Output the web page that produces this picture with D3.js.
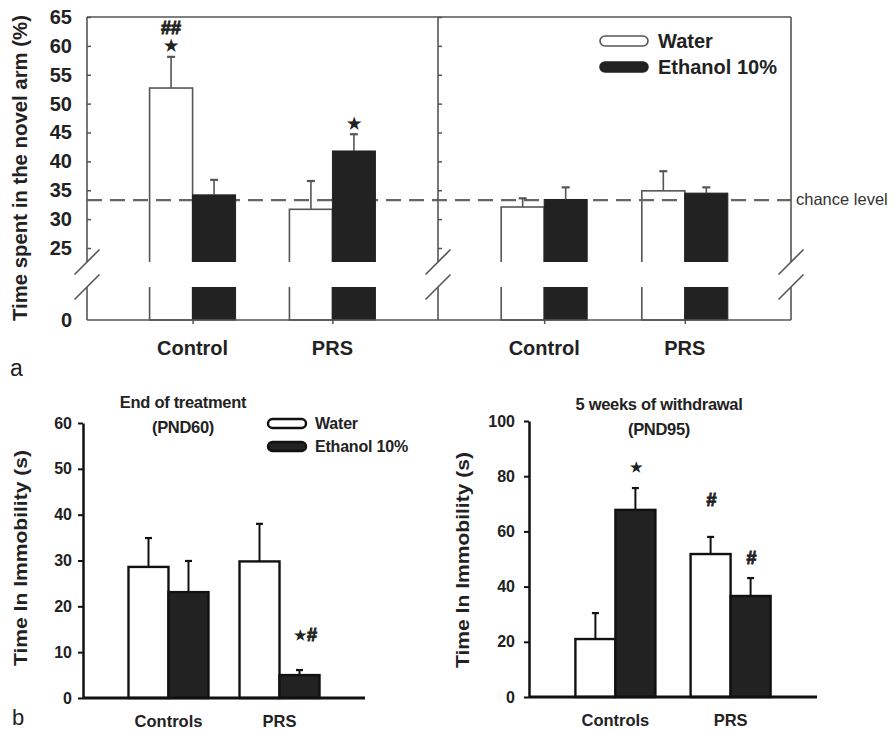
<!DOCTYPE html>
<html>
<head>
<meta charset="utf-8">
<script src="https://cdn.jsdelivr.net/npm/d3@7"></script>
<style>
  body { margin: 0; background: #fff; }
  svg text { font-family: "Liberation Sans", Arial, Helvetica, sans-serif; }
</style>
</head>
<body>
<svg id="chart" width="893" height="731"></svg>
<script>
// ---------------- data ----------------
const seriesNames = ["Water", "Ethanol 10%"];

// (a) time spent in the novel arm, two test sessions side by side
const novelArmGroups = ["Control", "PRS"];
const novelArmTicks = [25, 30, 35, 40, 45, 50, 55, 60, 65];
const chanceLevel = 33.3;
const novelLeftWater = [52.7, 31.7];
const novelLeftWaterSE = [5.4, 4.9];
const novelLeftEthanol = [34.2, 41.8];
const novelLeftEthanolSE = [2.6, 2.9];
const novelRightWater = [32.1, 34.9];
const novelRightWaterSE = [1.5, 3.4];
const novelRightEthanol = [33.4, 34.5];
const novelRightEthanolSE = [2.1, 1.0];
const novelLeftMarks = [
  { group: "Control", series: "Water", text: "★" },
  { group: "Control", series: "Water", text: "##" },
  { group: "PRS", series: "Ethanol 10%", text: "★" }
];

// (b) forced swim immobility
const fstGroups = ["Controls", "PRS"];
const fst60Ticks = [0, 10, 20, 30, 40, 50, 60];
const fst60Water = [28.6, 29.8];
const fst60WaterSE = [6.3, 8.2];
const fst60Ethanol = [23.1, 5.0];
const fst60EthanolSE = [6.8, 1.1];
const fst60Marks = [{ group: "PRS", series: "Ethanol 10%", text: "★#" }];

const fst95Ticks = [0, 20, 40, 60, 80, 100];
const fst95Water = [21.0, 51.8];
const fst95WaterSE = [9.4, 6.2];
const fst95Ethanol = [67.8, 36.6];
const fst95EthanolSE = [7.9, 6.5];
const fst95Marks = [
  { group: "Controls", series: "Ethanol 10%", text: "★" },
  { group: "PRS", series: "Water", text: "#" },
  { group: "PRS", series: "Ethanol 10%", text: "#" }
];

// ---------------- drawing ----------------
const svg = d3.select("#chart");
const GRAY = "#555", INK = "#222";
const FAMILY = '"Liberation Sans", Arial, sans-serif';

// ===== panel a : broken y axis =====
const A = { left: 87, mid: 438, right: 791, top: 17, bottom: 320, cutHi: 262, cutLo: 287 };
const yUp = d3.scaleLinear().domain([25, 65]).range([248, 17]);
const yLow = d3.scaleLinear().domain([0, 5]).range([A.bottom, A.cutLo]);

const defs = svg.append("defs");
defs.append("clipPath").attr("id", "clipUp")
  .append("rect").attr("x", 0).attr("y", 0).attr("width", 893).attr("height", A.cutHi);
defs.append("clipPath").attr("id", "clipLow")
  .append("rect").attr("x", 0).attr("y", A.cutLo).attr("width", 893).attr("height", A.bottom - A.cutLo + 1);

const gA = svg.append("g");
const layerWhite = gA.append("g");
const layerDash = gA.append("g");
const layerBlack = gA.append("g");
const layerFrame = gA.append("g");
const layerErr = gA.append("g");
const layerText = gA.append("g");

function novelHalf(x0, x1, water, waterSE, eth, ethSE, marks) {
  const xg = d3.scalePoint().domain(novelArmGroups).range([x0, x1]).padding(0.755);
  const xs = d3.scaleBand().domain(seriesNames).range([-43, 43]);
  const rows = novelArmGroups.flatMap((g, i) => [
    { g, s: seriesNames[0], v: water[i], se: waterSE[i] },
    { g, s: seriesNames[1], v: eth[i], se: ethSE[i] }
  ]);
  const isWater = d => d.s === seriesNames[0];

  [["clipUp", d => yUp(d.v), () => yUp(20)], ["clipLow", d => yLow(d.v), () => yLow(0)]]
    .forEach(([clip, yTopFn, yBotFn]) => {
      [[layerWhite, rows.filter(isWater)], [layerBlack, rows.filter(d => !isWater(d))]]
        .forEach(([layer, data]) => {
          layer.append("g").attr("clip-path", `url(#${clip})`)
            .selectAll("rect").data(data).join("rect")
            .attr("x", d => xg(d.g) + xs(d.s))
            .attr("width", xs.bandwidth())
            .attr("y", yTopFn)
            .attr("height", d => yBotFn(d) - yTopFn(d))
            .attr("fill", d => isWater(d) ? "#fff" : INK)
            .attr("stroke", d => isWater(d) ? GRAY : INK)
            .attr("stroke-width", d => isWater(d) ? 1.6 : 1);
        });
    });

  // error bars (upper half only)
  const eb = layerErr.selectAll(null).data(rows).join("g")
    .attr("transform", d => `translate(${xg(d.g) + xs(d.s) + xs.bandwidth() / 2},0)`);
  eb.append("line").attr("x1", 0).attr("x2", 0)
    .attr("y1", d => yUp(d.v)).attr("y2", d => yUp(d.v + d.se))
    .attr("stroke", GRAY).attr("stroke-width", 1.6);
  eb.append("line").attr("x1", -4).attr("x2", 4)
    .attr("y1", d => yUp(d.v + d.se)).attr("y2", d => yUp(d.v + d.se))
    .attr("stroke", GRAY).attr("stroke-width", 2.2);

  // group ticks on the baseline
  layerFrame.append("g").attr("transform", `translate(0,${A.bottom})`)
    .call(d3.axisBottom(xg).tickSize(4).tickFormat(""))
    .call(g => g.select(".domain").remove())
    .call(g => g.selectAll("line").attr("stroke", GRAY).attr("stroke-width", 1.5));

  // category labels
  layerText.selectAll(null).data(novelArmGroups).join("text")
    .attr("x", d => xg(d)).attr("y", 355)
    .attr("text-anchor", "middle").attr("font-size", 20).attr("font-weight", "bold")
    .attr("fill", INK).text(d => d);

  // significance marks
  marks.forEach(m => {
    const r = rows.find(d => d.g === m.group && d.s === m.series);
    const top = yUp(r.v + r.se);
    const hash = m.text === "##";
    layerText.append("text")
      .attr("x", xg(r.g) + xs(r.s) + xs.bandwidth() / 2)
      .attr("y", top - (hash ? 29 : 11))
      .attr("text-anchor", "middle").attr("dominant-baseline", "central")
      .attr("font-size", hash ? 18 : 16).attr("font-weight", "bold")
      .attr("fill", INK).attr("stroke", INK).attr("stroke-width", hash ? 0.9 : 0)
      .text(m.text);
  });
}

novelHalf(A.left, A.mid, novelLeftWater, novelLeftWaterSE, novelLeftEthanol, novelLeftEthanolSE, novelLeftMarks);
novelHalf(A.mid, A.right, novelRightWater, novelRightWaterSE, novelRightEthanol, novelRightEthanolSE, []);

// chance level line
layerDash.append("line")
  .attr("x1", A.left).attr("x2", A.right)
  .attr("y1", yUp(chanceLevel)).attr("y2", yUp(chanceLevel))
  .attr("stroke", "#666").attr("stroke-width", 2.2).attr("stroke-dasharray", "15,8");
layerText.append("text").attr("x", 796).attr("y", yUp(chanceLevel) + 5)
  .attr("font-size", 16.5).attr("fill", "#333").text("chance level");

// frame: top/bottom lines, three broken verticals with break slashes
const frame = layerFrame.append("g").attr("stroke", GRAY).attr("stroke-width", 1.6).attr("fill", "none");
frame.append("line").attr("x1", A.left).attr("x2", A.right).attr("y1", A.top).attr("y2", A.top);
frame.append("line").attr("x1", A.left).attr("x2", A.right).attr("y1", A.bottom).attr("y2", A.bottom);
[A.left, A.mid, A.right].forEach(x => {
  frame.append("line").attr("x1", x).attr("x2", x).attr("y1", A.top).attr("y2", A.cutHi);
  frame.append("line").attr("x1", x).attr("x2", x).attr("y1", A.cutLo).attr("y2", A.bottom);
  [A.cutHi, A.cutLo].forEach(y => {
    frame.append("line").attr("x1", x - 12.5).attr("y1", y + 12.5)
      .attr("x2", x + 12.5).attr("y2", y - 12.5);
  });
});

// y axis ticks (inward) with labels, and inward ticks on the divider
layerFrame.append("g").attr("transform", `translate(${A.left},0)`)
  .call(d3.axisLeft(yUp).tickValues(novelArmTicks).tickSize(-4).tickPadding(15))
  .call(g => g.select(".domain").remove())
  .call(g => g.selectAll("line").attr("stroke", GRAY).attr("stroke-width", 1.5))
  .call(g => g.selectAll("text").attr("font-size", 20).attr("font-weight", "bold").attr("fill", INK)
    .style("font-family", FAMILY));
layerFrame.append("g").attr("transform", `translate(${A.left},0)`)
  .call(d3.axisLeft(yLow).tickValues([0]).tickFormat(d3.format("d")).tickSize(0).tickPadding(15))
  .call(g => g.select(".domain").remove())
  .call(g => g.selectAll("text").attr("font-size", 20).attr("font-weight", "bold").attr("fill", INK)
    .style("font-family", FAMILY));
layerFrame.append("g").attr("transform", `translate(${A.mid},0)`)
  .call(d3.axisRight(yUp).tickValues(novelArmTicks).tickSize(4).tickFormat(""))
  .call(g => g.select(".domain").remove())
  .call(g => g.selectAll("line").attr("stroke", GRAY).attr("stroke-width", 1.5));

// y title
layerText.append("text")
  .attr("transform", "translate(27,168) rotate(-90)")
  .attr("text-anchor", "middle").attr("font-size", 20).attr("font-weight", "bold")
  .attr("textLength", 306).attr("lengthAdjust", "spacingAndGlyphs")
  .attr("fill", INK).text("Time spent in the novel arm (%)");

// legend
const legA = layerText.append("g");
seriesNames.forEach((s, i) => {
  legA.append("rect").attr("x", 600).attr("y", 36 + i * 26).attr("width", 48).attr("height", 10)
    .attr("rx", 5).attr("fill", i ? INK : "#fff").attr("stroke", i ? INK : GRAY).attr("stroke-width", 1.6);
  legA.append("text").attr("x", 658).attr("y", 48 + i * 25.5)
    .attr("font-size", 20).attr("font-weight", "bold").attr("fill", INK).text(s);
});

// panel letter
svg.append("text").attr("x", 10).attr("y", 376).attr("font-size", 23).attr("fill", INK).text("a");

// ===== panel b : forced swim immobility =====
function fstPanel(cfg) {
  const g = svg.append("g");
  const y = d3.scaleLinear().domain([0, cfg.ticks[cfg.ticks.length - 1]]).range([cfg.y0, cfg.y1]);
  const xg = d3.scalePoint().domain(fstGroups).range([cfg.x0, cfg.x1]).padding(cfg.pad);
  const xs = d3.scaleBand().domain(seriesNames).range([-40, 40]);
  const rows = fstGroups.flatMap((grp, i) => [
    { g: grp, s: seriesNames[0], v: cfg.water[i], se: cfg.waterSE[i] },
    { g: grp, s: seriesNames[1], v: cfg.eth[i], se: cfg.ethSE[i] }
  ]);
  const isWater = d => d.s === seriesNames[0];
  const cx = d => xg(d.g) + xs(d.s) + xs.bandwidth() / 2;

  // error bars first, bars over them
  const eb = g.selectAll(null).data(rows).join("g");
  eb.append("line").attr("x1", cx).attr("x2", cx)
    .attr("y1", d => y(d.v)).attr("y2", d => y(d.v + d.se))
    .attr("stroke", "#111").attr("stroke-width", 2);
  eb.append("line").attr("x1", d => cx(d) - 3.5).attr("x2", d => cx(d) + 3.5)
    .attr("y1", d => y(d.v + d.se)).attr("y2", d => y(d.v + d.se))
    .attr("stroke", "#111").attr("stroke-width", 2.2);

  g.selectAll(null).data(rows).join("rect")
    .attr("x", d => xg(d.g) + xs(d.s))
    .attr("width", xs.bandwidth())
    .attr("y", d => y(d.v))
    .attr("height", d => y(0) - y(d.v))
    .attr("fill", d => isWater(d) ? "#fff" : INK)
    .attr("stroke", "#111").attr("stroke-width", 2.4);

  // axes
  g.append("g").attr("transform", `translate(${cfg.x0},0)`)
    .call(d3.axisLeft(y).tickValues(cfg.ticks).tickSize(5).tickSizeOuter(0).tickPadding(cfg.tickPad))
    .call(a => a.select(".domain").attr("stroke", "#111").attr("stroke-width", 2.5))
    .call(a => a.selectAll(".tick line").attr("stroke", "#111").attr("stroke-width", 2))
    .call(a => a.selectAll("text").attr("font-size", 16).attr("font-weight", "bold").attr("fill", INK)
      .style("font-family", FAMILY));
  g.append("g").attr("transform", `translate(0,${cfg.y0})`)
    .call(d3.axisBottom(xg).tickSize(0).tickSizeOuter(0).tickFormat(""))
    .call(a => a.select(".domain").attr("stroke", "#111").attr("stroke-width", 2.8)
      .attr("d", `M${cfg.x0},0H${cfg.x1}`));

  g.selectAll(null).data(fstGroups).join("text")
    .attr("x", d => xg(d)).attr("y", cfg.y0 + 29)
    .attr("text-anchor", "middle").attr("font-size", 16.5).attr("font-weight", "bold")
    .attr("fill", INK).text(d => d);

  // titles
  cfg.title.forEach((t, i) => {
    g.append("text").attr("x", cfg.titleX).attr("y", cfg.titleY + i * 25)
      .attr("text-anchor", "middle").attr("font-size", 16.5).attr("font-weight", "bold")
      .attr("letter-spacing", -0.3).attr("fill", INK).text(t);
  });

  // y title
  g.append("text")
    .attr("transform", `translate(${cfg.yTitleX},${cfg.yTitleY}) rotate(-90)`)
    .attr("text-anchor", "middle").attr("font-size", 18).attr("font-weight", "bold")
    .attr("textLength", 216).attr("lengthAdjust", "spacingAndGlyphs")
    .attr("fill", INK).text("Time In Immobility (s)");

  // significance marks
  cfg.marks.forEach((m, i) => {
    const r = rows.find(d => d.g === m.group && d.s === m.series);
    const t = g.append("text")
      .attr("x", cx(r) + cfg.markShift[i]).attr("y", y(r.v + r.se) - cfg.markLift[i])
      .attr("text-anchor", "middle").attr("dominant-baseline", "central")
      .attr("font-weight", "bold").attr("fill", INK);
    [...m.text].forEach(ch => {
      const star = ch === "★";
      t.append("tspan").attr("font-size", star ? cfg.starSize : 18)
        .attr("stroke", INK).attr("stroke-width", star ? 0 : 0.9).text(ch);
    });
  });
  return g;
}

fstPanel({
  x0: 83, x1: 365, y0: 698, y1: 423, pad: 0.77, tickPad: 6,
  ticks: fst60Ticks, water: fst60Water, waterSE: fst60WaterSE, eth: fst60Ethanol, ethSE: fst60EthanolSE,
  title: ["End of treatment", "(PND60)"], titleX: 183, titleY: 408,
  yTitleX: 27, yTitleY: 558,
  marks: fst60Marks, markLift: [35], markShift: [6], starSize: 14
});
fstPanel({
  x0: 529, x1: 817, y0: 697, y1: 421, pad: 0.75, tickPad: 9,
  ticks: fst95Ticks, water: fst95Water, waterSE: fst95WaterSE, eth: fst95Ethanol, ethSE: fst95EthanolSE,
  title: ["5 weeks of withdrawal", "(PND95)"], titleX: 659, titleY: 410,
  yTitleX: 469, yTitleY: 560,
  marks: fst95Marks, markLift: [21, 37, 20], markShift: [1, 1, 1], starSize: 14
});

// legend for panel b
const legB = svg.append("g");
seriesNames.forEach((s, i) => {
  legB.append("rect").attr("x", 268).attr("y", 419 + i * 23).attr("width", 38).attr("height", 9)
    .attr("rx", 4.5).attr("fill", i ? INK : "#fff").attr("stroke", "#111").attr("stroke-width", 2.4);
  legB.append("text").attr("x", 315).attr("y", 429 + i * 23)
    .attr("font-size", 16).attr("font-weight", "bold").attr("letter-spacing", -0.2)
    .attr("fill", INK).text(s);
});

svg.append("text").attr("x", 12).attr("y", 725).attr("font-size", 22).attr("fill", INK).text("b");
</script>
</body>
</html>
